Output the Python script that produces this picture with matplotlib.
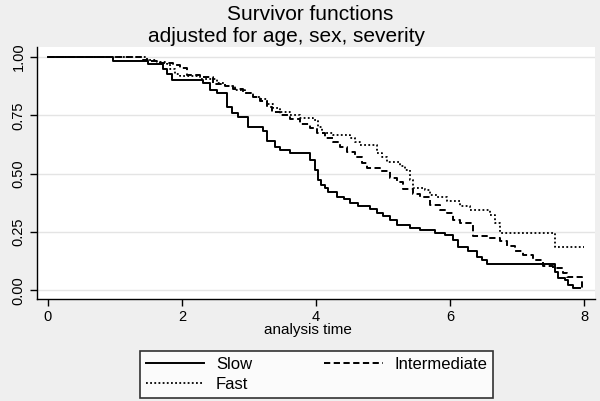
import matplotlib
matplotlib.use("Agg")
from matplotlib import pyplot as plt

plt.rcParams['font.family'] = ['Liberation Sans', 'DejaVu Sans']
plt.rcParams['lines.scale_dashes'] = False

# step times and survival after each step (t=0 -> 1.0)
slow_t = [0, 0.97, 1.49, 1.72, 1.78, 1.85, 2.31, 2.42, 2.52, 2.67, 2.75, 2.84, 2.99,
          3.21, 3.27, 3.39, 3.46, 3.61, 3.91, 3.99, 4.03, 4.08, 4.13, 4.18, 4.31,
          4.41, 4.51, 4.63, 4.81, 4.91, 5.00, 5.10, 5.20, 5.40, 5.55, 5.78, 5.93,
          6.04, 6.12, 6.27, 6.40, 6.48, 6.55, 7.57, 7.61, 7.72, 7.76, 7.84, 7.94]
slow_s = [1.0, 0.985, 0.971, 0.95, 0.93, 0.903, 0.889, 0.861, 0.847, 0.785, 0.762, 0.745, 0.702,
          0.682, 0.639, 0.617, 0.600, 0.589, 0.559, 0.517, 0.474, 0.453, 0.438, 0.424, 0.402,
          0.392, 0.373, 0.361, 0.347, 0.332, 0.318, 0.302, 0.281, 0.267, 0.257, 0.248, 0.237,
          0.216, 0.188, 0.167, 0.145, 0.131, 0.113, 0.081, 0.055, 0.045, 0.024, 0.009, 0.009]

inter_t = [0, 1.42, 1.52, 1.67, 1.87, 1.97, 2.07, 2.27, 2.46, 2.64, 2.76, 2.91, 3.06,
           3.16, 3.27, 3.34, 3.46, 3.61, 3.76, 3.91, 4.01, 4.13, 4.25, 4.36, 4.46,
           4.58, 4.69, 4.76, 4.96, 5.10, 5.21, 5.30, 5.45, 5.55, 5.70, 5.85, 5.96,
           6.04, 6.15, 6.34, 6.55, 6.75, 6.85, 6.97, 7.09, 7.24, 7.39, 7.54, 7.69,
           7.75, 7.97, 7.99]
inter_s = [1.0, 0.99, 0.985, 0.975, 0.965, 0.955, 0.925, 0.915, 0.885, 0.875, 0.865, 0.845, 0.83,
           0.81, 0.785, 0.765, 0.75, 0.735, 0.715, 0.695, 0.675, 0.655, 0.635, 0.615, 0.595,
           0.57, 0.545, 0.525, 0.51, 0.48, 0.465, 0.435, 0.415, 0.40, 0.365, 0.345, 0.33,
           0.30, 0.29, 0.235, 0.225, 0.21, 0.19, 0.17, 0.15, 0.13, 0.105, 0.095, 0.075,
           0.058, 0.01, 0.01]

fast_t = [0, 1.48, 1.63, 1.78, 1.82, 1.90, 1.97, 2.27, 2.52, 2.64, 2.79, 2.94, 3.06,
          3.16, 3.27, 3.36, 3.46, 3.61, 3.76, 3.96, 4.03, 4.09, 4.25, 4.51, 4.58,
          4.66, 4.91, 4.99, 5.06, 5.25, 5.33, 5.40, 5.45, 5.63, 5.70, 5.81, 5.96,
          6.15, 6.30, 6.60, 6.67, 6.75, 7.57, 7.99]
fast_s = [1.0, 0.99, 0.98, 0.97, 0.95, 0.93, 0.92, 0.905, 0.89, 0.875, 0.86, 0.845, 0.83,
          0.82, 0.80, 0.78, 0.765, 0.75, 0.74, 0.73, 0.70, 0.675, 0.665, 0.655, 0.635,
          0.625, 0.59, 0.57, 0.55, 0.535, 0.517, 0.475, 0.44, 0.43, 0.41, 0.40, 0.385,
          0.36, 0.345, 0.325, 0.29, 0.247, 0.187, 0.187]

group_names = ["Slow", "Intermediate", "Fast"]
x_ticks = [0, 2, 4, 6, 8]
y_ticks = [0.0, 0.25, 0.5, 0.75, 1.0]
y_ticklabels = ["0.00", "0.25", "0.50", "0.75", "1.00"]

bg = '#EFEFEF'
fig = plt.figure(figsize=(6.0, 4.01), dpi=100, facecolor=bg)
ax = fig.add_axes([0.061, 0.2536, 0.931, 0.63])
ax.set_facecolor('white')

l1, = ax.step(slow_t, slow_s, where='post', color='black', lw=1.4, label=group_names[0])
l2, = ax.step(inter_t, inter_s, where='post', color='black', lw=1.4,
              dashes=(4.5, 2.5), label=group_names[1])
l3, = ax.step(fast_t, fast_s, where='post', color='black', lw=1.3,
              dashes=(1.3, 1.7), label=group_names[2])

ax.set_xlim(-0.169, 8.164)
ax.set_ylim(-0.038, 1.045)
ax.set_xticks(x_ticks)
ax.set_yticks(y_ticks)
ax.set_yticklabels(y_ticklabels, rotation=90, va='center')
ax.tick_params(axis='both', labelsize=10.5, length=5, width=1, direction='out', pad=3)
ax.grid(axis='y', color='#E4E4E4', lw=1)
ax.set_axisbelow(True)
for side in ['top', 'right']:
    ax.spines[side].set_visible(False)
for side in ['left', 'bottom']:
    ax.spines[side].set_linewidth(1.0)

ax.set_xlabel("analysis time", fontsize=11, va='top')
ax.xaxis.set_label_coords(0.485, -0.093)

fig.text(310 / 600, 1 - 20 / 401, "Survivor functions", fontsize=15,
         ha='center', va='baseline')
fig.text(287 / 600, 1 - 42 / 401, "adjusted for age, sex, severity", fontsize=15,
         ha='center', va='baseline')

# column-major fill: Slow / Fast in column 1, Intermediate in column 2
leg = fig.legend(handles=[l1, l3, l2], loc='lower left',
                 bbox_to_anchor=(140 / 600, 3 / 401, 353 / 600, 50 / 401),
                 mode='expand', ncol=2, fontsize=12, frameon=True, fancybox=False,
                 edgecolor='black', handlelength=3.5, borderaxespad=0,
                 labelspacing=0.3, handletextpad=0.7, borderpad=0.35)
leg.get_frame().set_linewidth(1.2)
leg.get_frame().set_facecolor('white')

fig.savefig("out.png", dpi=100, facecolor=bg)
